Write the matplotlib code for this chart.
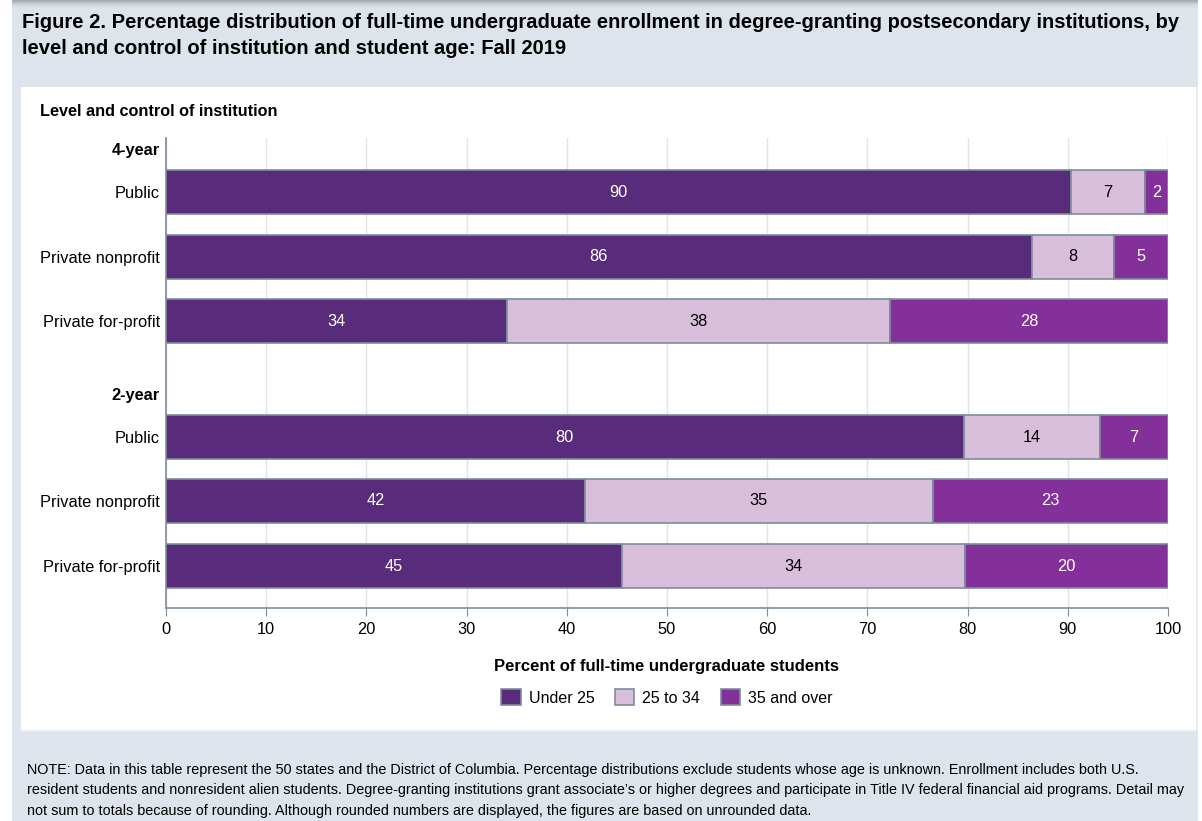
import matplotlib.pyplot as plt
from matplotlib.patches import Rectangle
import numpy as np

## categories, top to bottom
groups = ['4-year', '2-year']
controls = ['Public', 'Private nonprofit', 'Private for-profit']
age_groups = ['Under 25', '25 to 34', '35 and over']

## unrounded shares, 4-year rows then 2-year rows
under_25 = [90.3, 86.4, 34.0, 79.6, 41.8, 45.5]
age_25_34 = [7.4, 8.2, 38.3, 13.6, 34.7, 34.2]
age_35_up = [2.3, 5.4, 27.7, 6.8, 23.5, 20.3]

## rounded numbers printed in the bars
lab_under_25 = [90, 86, 34, 80, 42, 45]
lab_25_34 = [7, 8, 38, 14, 35, 34]
lab_35_up = [2, 5, 28, 7, 23, 20]

colors = ['#582c7a', '#d9bedc', '#84309a']
text_colors = ['white', 'black', 'white']
edge = '#7d8d9c'
bg = '#dde4eb'

plt.rcParams['font.family'] = ['Liberation Sans', 'DejaVu Sans']

W, H = 1202, 821
fig = plt.figure(figsize=(W / 100, H / 100), dpi=100)
fig.patch.set_facecolor('white')

## page background, panel and top shadow (pixel coords)
def px_rect(x0, y0, x1, y1, color):
    fig.patches.append(Rectangle((x0 / W, 1 - y1 / H), (x1 - x0) / W, (y1 - y0) / H,
                                 transform=fig.transFigure, facecolor=color,
                                 edgecolor='none', zorder=-10))

px_rect(12, 0, 1198, 821, bg)
for i, c in enumerate(['#a9adb2', '#c2c6cb', '#d2d7dc', '#d9dfe5']):
    px_rect(12, 2 * i, 1198, 2 * i + 2, c)
px_rect(21, 87, 1196, 730, 'white')
px_rect(1196, 87, 1198, 730, '#e8edf1')
px_rect(21, 730, 1196, 732, '#e8edf1')

## axes placed to match reference pixel box
ax_l, ax_r, ax_t, ax_b = 166, 1168, 138, 608
ax = fig.add_axes([ax_l / W, 1 - ax_b / H, (ax_r - ax_l) / W, (ax_b - ax_t) / H])
ax.set_facecolor('none')
ax.set_zorder(5)

## y positions in row units (one row = bar spacing)
bar_y = np.array([0, 1, 2, 3.8, 4.79, 5.8])
head_y = [-0.67, 3.13]
bar_h = 0.68

left = np.zeros(len(bar_y))
series = [under_25, age_25_34, age_35_up]
labels = [lab_under_25, lab_25_34, lab_35_up]
for vals, labs, col, tc, name in zip(series, labels, colors, text_colors, age_groups):
    vals = np.array(vals)
    ax.barh(bar_y, vals, left=left, height=bar_h, color=col, edgecolor=edge,
            linewidth=1.2, label=name, zorder=3)
    for y, l, v, lab in zip(bar_y, left, vals, labs):
        ax.text(l + v / 2, y, str(lab), ha='center', va='center', color=tc,
                fontsize=11.8, zorder=4)
    left = left + vals

ax.set_xlim(0, 100)
ax.set_ylim(6.45, -0.84)
ax.set_xticks(np.arange(0, 101, 10))
ax.tick_params(axis='x', length=6, color=edge, labelsize=11.8, pad=4)
ax.grid(axis='x', color='#e3e3e3', linewidth=1, zorder=0)

ax.set_yticks(list(bar_y) + head_y)
ax.set_yticklabels(controls * 2 + groups)
for t in ax.get_yticklabels()[-2:]:
    t.set_fontweight('bold')
ax.tick_params(axis='y', length=0, labelsize=11.8, pad=4.5)

for s in ['top', 'right']:
    ax.spines[s].set_visible(False)
for s in ['left', 'bottom']:
    ax.spines[s].set_color(edge)
    ax.spines[s].set_linewidth(1.2)

ax.set_xlabel('Percent of full-time undergraduate students', fontsize=12,
              fontweight='bold', labelpad=16)
ax.legend(loc='upper center', bbox_to_anchor=(0.5, -0.142), ncol=3, frameon=False,
          fontsize=11.5, handlelength=1.2, handleheight=1.2, handletextpad=0.5,
          columnspacing=1.3)

## titles and notes
fig.text(22 / W, 1 - 22 / H, 'Figure 2. Percentage distribution of full-time undergraduate '
         'enrollment in degree-granting postsecondary institutions, by',
         fontsize=14.5, fontweight='bold', va='center')
fig.text(22 / W, 1 - 48 / H, 'level and control of institution and student age: Fall 2019',
         fontsize=14.5, fontweight='bold', va='center')
fig.text(40 / W, 1 - 111 / H, 'Level and control of institution', fontsize=11.7,
         fontweight='bold', va='center')

notes = ['NOTE: Data in this table represent the 50 states and the District of Columbia. '
         'Percentage distributions exclude students whose age is unknown. Enrollment includes both U.S.',
         'resident students and nonresident alien students. Degree-granting institutions grant '
         'associate\u2019s or higher degrees and participate in Title IV federal financial aid programs. Detail may',
         'not sum to totals because of rounding. Although rounded numbers are displayed, '
         'the figures are based on unrounded data.']
for i, line in enumerate(notes):
    fig.text(27 / W, 1 - (770 + 20.3 * i) / H, line, fontsize=10.35, va='center')

fig.savefig('out.png', dpi=100)
